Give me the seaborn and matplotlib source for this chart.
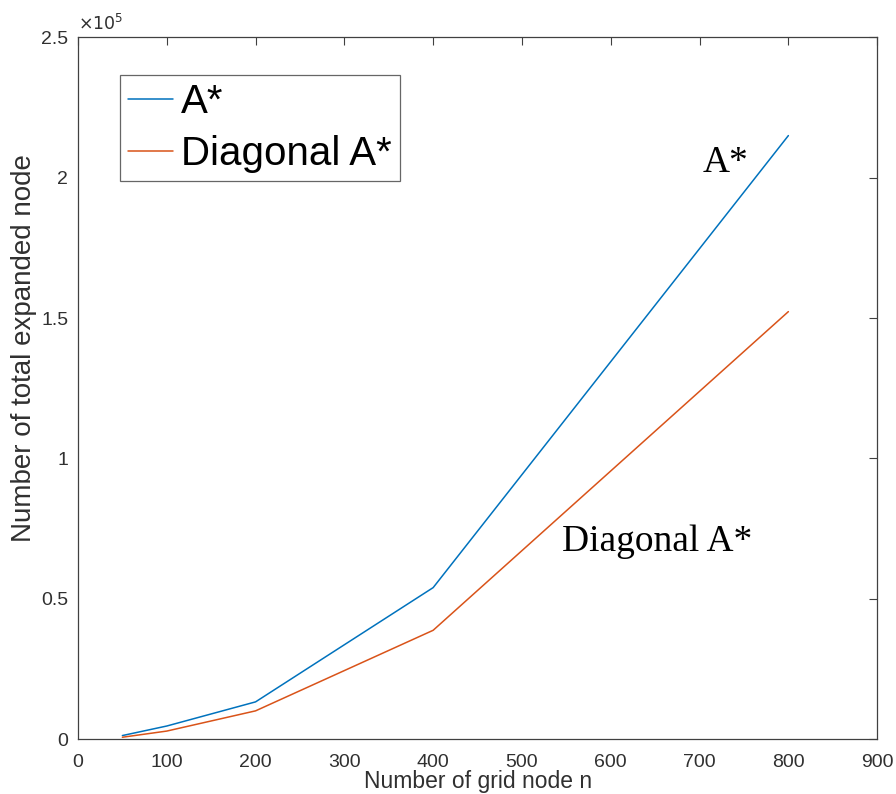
import numpy as np
import pandas as pd
import matplotlib
matplotlib.use("Agg")
import matplotlib.pyplot as plt
import seaborn as sns
from matplotlib.ticker import MultipleLocator, FuncFormatter
from matplotlib.lines import Line2D

# grid sizes and expanded node counts
grid_n = [50, 100, 200, 400, 800]
astar_nodes = [1300, 4700, 13300, 54000, 215000]
diag_nodes = [700, 2900, 10100, 38800, 152300]
series_names = ["A*", "Diagonal A*"]

df = pd.concat([
    pd.DataFrame({"n": grid_n, "nodes": astar_nodes, "method": series_names[0]}),
    pd.DataFrame({"n": grid_n, "nodes": diag_nodes, "method": series_names[1]}),
], ignore_index=True)

sns.set_style("white")
plt.rcParams["font.family"] = ["Liberation Sans", "DejaVu Sans"]
plt.rcParams["text.color"] = "black"

colors = ["#0072BD", "#D95319"]
grey = "#404040"
serif = ["Liberation Serif", "DejaVu Serif"]

fig = plt.figure(figsize=(8.96, 7.94), dpi=100)
ax = fig.add_axes([0.087, 0.069, 0.892, 0.884])

sns.lineplot(data=df, x="n", y="nodes", hue="method", palette=colors,
             linewidth=1.1, legend=False, ax=ax)

ax.set_xlim(0, 900)
ax.set_ylim(0, 2.5e5)
ax.xaxis.set_major_locator(MultipleLocator(100))
ax.yaxis.set_major_locator(MultipleLocator(0.5e5))
ax.yaxis.set_major_formatter(FuncFormatter(lambda v, p: f"{v / 1e5:g}"))
ax.tick_params(direction="in", length=6, width=0.8, colors=grey,
               labelsize=14, top=True, right=True, labelcolor="#303030")
ax.tick_params(axis="x", pad=11)
ax.tick_params(axis="y", pad=7)
for s in ax.spines.values():
    s.set_color(grey)
    s.set_linewidth(0.9)

ax.text(0.0, 1.006, r"$\times10^5$", transform=ax.transAxes, fontsize=12.5,
        color="#303030", ha="left", va="bottom")

ax.set_xlabel("Number of grid node n", fontsize=16.5, color="#303030", labelpad=-1)
ax.set_ylabel("Number of total expanded node", fontsize=20, color="#303030")
ax.yaxis.set_label_coords(-0.051, 0.557)

handles = [Line2D([0], [0], color=c, lw=1.1) for c in colors]
leg = ax.legend(handles, series_names, loc="upper left",
                bbox_to_anchor=(0.053, 0.946), borderaxespad=0,
                fontsize=29, handlelength=1.1, handletextpad=0.2,
                labelspacing=0.35, borderpad=0.2, frameon=True, fancybox=False)
leg.get_frame().set_edgecolor(grey)
leg.get_frame().set_linewidth(0.9)
for t in leg.get_texts():
    t.set_color("black")

ax.text(703, 2.055e5, "A*", fontsize=27, family=serif, color="black",
        va="center", ha="left")
ax.text(545, 0.705e5, "Diagonal A*", fontsize=27, family=serif, color="black",
        va="center", ha="left")

fig.savefig("out.png", dpi=100)
